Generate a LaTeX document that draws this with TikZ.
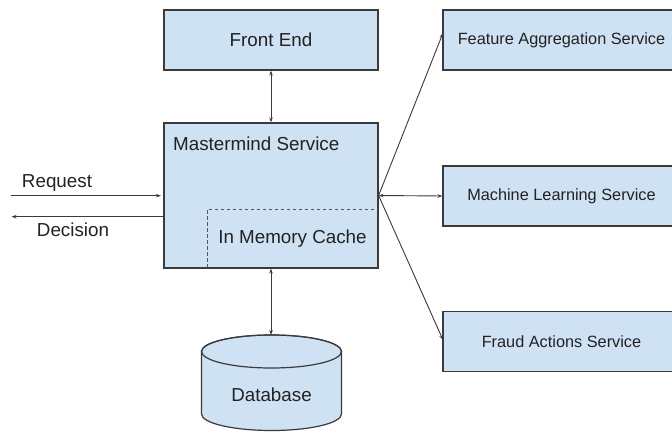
\documentclass[tikz,border=0pt]{standalone}
\usepackage{fontspec}
\setmainfont{Liberation Sans}
\usetikzlibrary{arrows.meta}
\definecolor{boxfill}{HTML}{CFE2F3}
\definecolor{boxline}{HTML}{3A3A3A}
\definecolor{dashline}{HTML}{555555}
\definecolor{txt}{HTML}{222222}
\begin{document}
\begin{tikzpicture}[x=1pt,y=1pt,
  every node/.style={text=txt},
  bigbox/.style={draw=boxline,fill=boxfill,line width=1.2pt,inner sep=0pt,anchor=center},
  svcbox/.style={bigbox,minimum width=237pt,minimum height=60pt,font=\fontsize{16.3}{18}\selectfont},
  bigfont/.style={font=\fontsize{18.8}{21}\selectfont},
  conn/.style={draw=boxline,line width=0.9pt},
  tip/.style={-{Stealth[length=5pt,width=3.5pt]}},
  dtip/.style={{Stealth[length=5pt,width=3.5pt]}-{Stealth[length=5pt,width=3.5pt]}}
]
\useasboundingbox (0,0) rectangle (672,432);
\clip (0,0) rectangle (672,432);
\fill[white] (0,0) rectangle (672,432);

% Front End
\node[bigbox,bigfont,minimum width=214pt,minimum height=60pt] (fe) at (271,392) {Front End};

% Mastermind
\node[bigbox,minimum width=214pt,minimum height=145pt] (ms) at (271,236.5) {};
\node[bigfont,anchor=west,inner sep=0pt] (mstext) at (173,288.7) {Mastermind Service};
\node[draw=dashline,line width=1pt,dash pattern=on 3.5pt off 2.5pt,minimum width=171pt,minimum height=59pt,inner sep=0pt,bigfont] (cache) at (292.5,193.5) {In Memory Cache};
\draw[boxline,line width=1.2pt] (ms.north west) rectangle (ms.south east);

% Services
\node[svcbox] (fa) at (561.5,392) {Feature Aggregation Service};
\node[svcbox] (ml) at (561.5,236) {Machine Learning Service};
\node[svcbox] (fr) at (561.5,90.5) {Fraud Actions Service};

% Database cylinder
\path[fill=boxfill,draw=boxline,line width=1.2pt]
  (201.5,80.5) -- (201.5,18) arc[start angle=180,end angle=360,x radius=70,y radius=16.5]
  -- (341.5,80.5) arc[start angle=0,end angle=180,x radius=70,y radius=16.5] -- cycle;
\draw[boxline,line width=1.2pt] (271.5,80.5) ellipse[x radius=70,y radius=16.5];
\node[bigfont] (db) at (271.5,37) {Database};
\coordinate (dbtop) at (271,97);

% Request / Decision
\coordinate (reqstart) at (10.7,236.3);
\coordinate (reqend) at (161,236.3);
\coordinate (decstart) at (165,215.3);
\coordinate (decend) at (11.5,215.3);
\draw[conn,tip] (reqstart) -- (reqend);
\draw[conn,tip] (decstart) -- (decend);
\node[bigfont] (req) at (57,249.3) {Request};
\node[bigfont] (dec) at (73,202) {Decision};

% Connectors
\draw[conn,dtip] (fe.south) -- (ms.north);
\draw[conn,dtip] (ms.south) -- (dbtop);
\coordinate (fain) at (443,399);
\coordinate (frin) at (443,92);
\draw[conn,tip] (ms.east) -- (fain);
\draw[conn,dtip] (ms.east) -- (ml.west);
\draw[conn,tip] (ms.east) -- (frin);
\end{tikzpicture}
\end{document}
